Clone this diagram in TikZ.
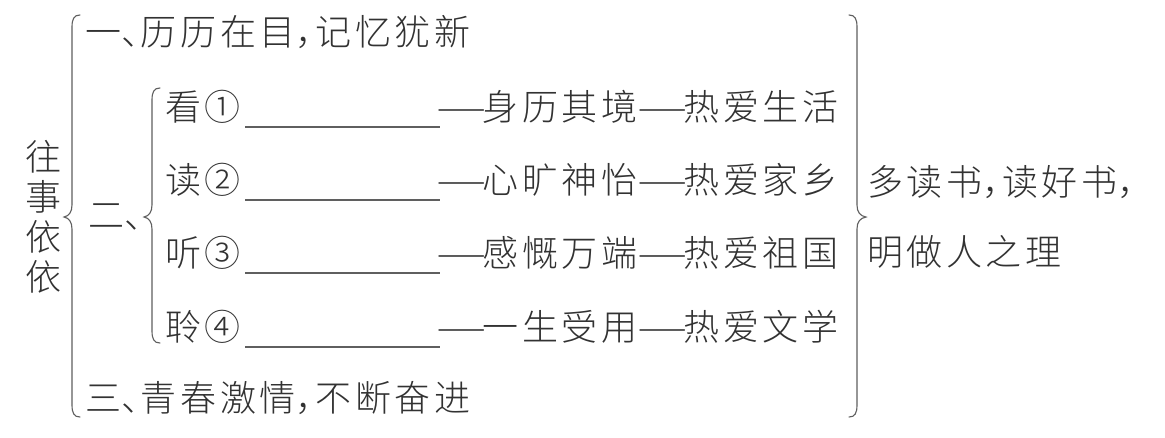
\documentclass[tikz,border=0pt]{standalone}
\usepackage{fontspec}
\usepackage{graphicx}
\newfontfamily\cjk[LetterSpace=10]{Noto Sans CJK SC Light}
\newfontfamily\cjkplain{Noto Sans CJK SC Light}
\newcommand\hc[1]{\makebox[0.55em][l]{#1}}
\newcommand\ldash{\makebox[1.1em][c]{\hspace*{-0.08em}\resizebox{1.4em}{\height}{—}}}
\definecolor{txt}{RGB}{50,50,50}
\definecolor{ln}{RGB}{95,95,95}
\begin{document}
\begin{tikzpicture}[x=1pt,y=-1pt,
  every node/.style={inner sep=0pt, outer sep=0pt, text=txt, font=\cjk\fontsize{36}{40}\selectfont},
  blank/.style={draw=ln, line width=1.1pt},
  brace/.style={draw=ln, line width=1.1pt, line cap=round}]
\useasboundingbox (0,0) rectangle (1165,437);
\fill[white] (0,0) rectangle (1165,437);

% title
\node[font=\cjkplain\fontsize{36}{40}\selectfont, align=center] (title) at (43,217) {往\\事\\依\\依};

% main items
\node[anchor=west] (l1) at (85,32) {一\hc{、}历历在目\hc{，}记忆犹新};
\node[anchor=west] (l2) at (88,217) {二\hc{、}};
\node[anchor=west] (l3) at (85,398) {三\hc{、}青春激情\hc{，}不断奋进};

% rows
\foreach \i/\y/\p/\a/\b in {1/107/看①/身历其境/热爱生活,
                            2/180/读②/心旷神怡/热爱家乡,
                            3/253/听③/感慨万端/热爱祖国,
                            4/327/聆④/一生受用/热爱文学}{
  \node[anchor=west] (p\i) at (165,\y) {\p};
  \coordinate (us\i) at (245,\y+20);
  \coordinate (ue\i) at (440,\y+20);
  \draw[blank] (us\i) -- (ue\i);
  \node[anchor=west] (a\i) at (443,\y) {\ldash\a};
  \node[anchor=west] (b\i) at (644,\y) {\ldash\b};
}

% right text
\node[anchor=west] (r1) at (867,182) {多读书\hc{，}读好书\hc{，}};
\node[anchor=west] (r2) at (867,252) {明做人之理};

% big left brace
\draw[brace] (80,15) .. controls (74,15) and (72,19) .. (72,27) -- (72,205)
  .. controls (72,212) and (69,216) .. (64,217)
  .. controls (69,218) and (72,222) .. (72,229) -- (72,405)
  .. controls (72,413) and (74,417) .. (80,417);

% inner brace
\draw[brace] (160,88) .. controls (154,88) and (152,92) .. (152,100) -- (152,205)
  .. controls (152,212) and (149,216) .. (144,217)
  .. controls (149,218) and (152,222) .. (152,229) -- (152,331)
  .. controls (152,339) and (154,343) .. (160,343);

% right brace
\draw[brace] (849,15) .. controls (855,15) and (857,19) .. (857,27) -- (857,205)
  .. controls (857,212) and (860,216) .. (866,217)
  .. controls (860,218) and (857,222) .. (857,229) -- (857,405)
  .. controls (857,413) and (855,417) .. (849,417);
\end{tikzpicture}
\end{document}
